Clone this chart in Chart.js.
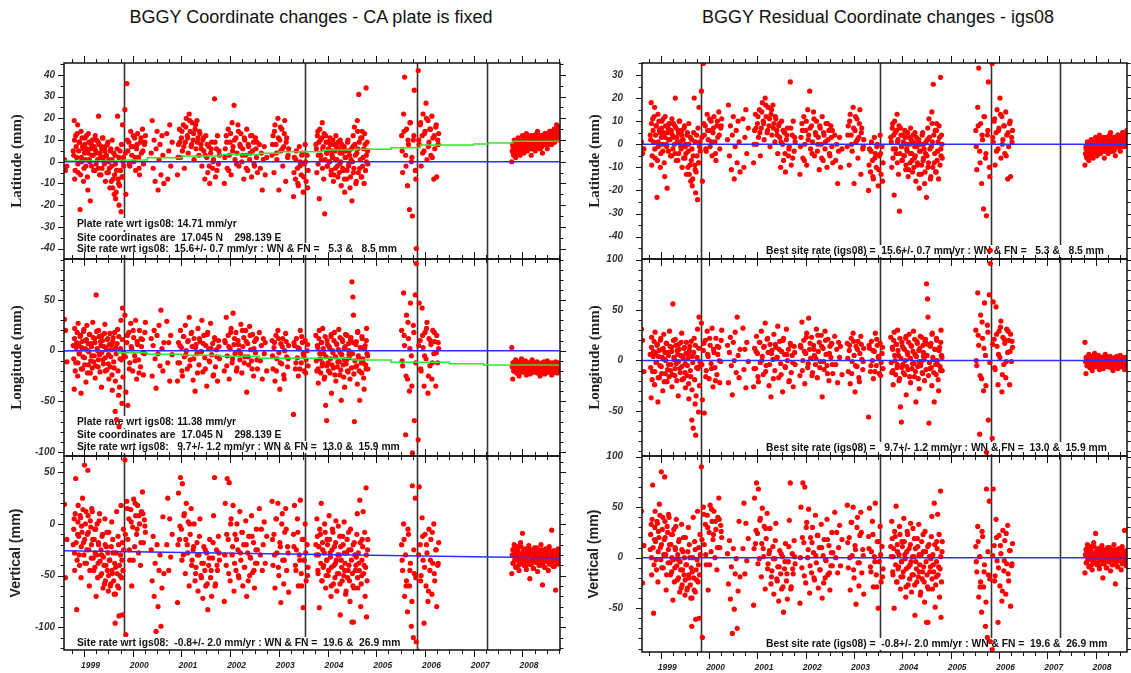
<!DOCTYPE html>
<html>
<head>
<meta charset="utf-8">
<title>BGGY coordinate time series</title>
<script src="https://cdn.jsdelivr.net/npm/chart.js@4.4.1/dist/chart.umd.min.js"></script>
<style>
  body { margin: 0; background: #fff; }
  #page { position: relative; width: 1131px; height: 673px; overflow: hidden; background: #fff; }
  .title { position: absolute; top: 7px; font: 18px "Liberation Sans", Arial, sans-serif; color: #111; transform: translateX(-50%); white-space: nowrap; }
  canvas { position: absolute; }
</style>
</head>
<body>
<div id="page">
  <div class="title" style="left:311px">BGGY Coordinate changes - CA plate is fixed</div>
  <div class="title" style="left:878px">BGGY Residual Coordinate changes - igs08</div>
  <canvas id="latL"></canvas>
  <canvas id="lonL"></canvas>
  <canvas id="hgtL"></canvas>
  <canvas id="latR"></canvas>
  <canvas id="lonR"></canvas>
  <canvas id="hgtR"></canvas>
</div>
<script>
// daily solutions (decimal year), one line per observing campaign
const epochs = [
  1998.60, 1998.62, 1998.65,
  1998.78, 1998.80, 1998.81, 1998.83, 1998.85, 1998.87, 1998.88, 1998.90, 1998.92, 1998.94, 1998.95, 1998.97, 1998.99,
  1999.01, 1999.02, 1999.04, 1999.06, 1999.08, 1999.09, 1999.11, 1999.13, 1999.15, 1999.16, 1999.18, 1999.20, 1999.22, 1999.23, 1999.25,
  1999.27, 1999.29, 1999.30, 1999.32, 1999.34, 1999.36, 1999.37, 1999.39, 1999.41, 1999.43, 1999.44, 1999.46, 1999.48, 1999.50, 1999.51,
  1999.53, 1999.55, 1999.57, 1999.58, 1999.60, 1999.62, 1999.64, 1999.65, 1999.67, 1999.69, 1999.71, 1999.72, 1999.74, 1999.76, 1999.78, 1999.79, 1999.81,
  1999.84, 1999.86, 1999.88, 1999.90, 1999.92, 1999.94, 1999.96, 1999.98, 2000.00, 2000.02, 2000.04, 2000.06, 2000.08, 2000.10, 2000.12,
  2000.14, 2000.16, 2000.18, 2000.20, 2000.22, 2000.24, 2000.26,
  2000.38, 2000.40, 2000.42, 2000.44, 2000.46, 2000.48, 2000.50, 2000.52, 2000.54, 2000.56, 2000.58, 2000.60, 2000.62, 2000.64,
  2000.70, 2000.72, 2000.74, 2000.76, 2000.78, 2000.81,
  2000.92, 2000.94, 2000.96, 2000.98, 2001.00, 2001.02, 2001.04, 2001.06, 2001.08, 2001.10, 2001.12, 2001.14, 2001.16, 2001.18, 2001.20,
  2001.22, 2001.24, 2001.26, 2001.28, 2001.30, 2001.32, 2001.34, 2001.36, 2001.38, 2001.40, 2001.42, 2001.44, 2001.46, 2001.48, 2001.50,
  2001.52, 2001.54, 2001.56, 2001.58, 2001.60, 2001.62, 2001.64, 2001.66, 2001.68, 2001.70, 2001.72, 2001.74, 2001.76, 2001.78,
  2001.88, 2001.90, 2001.92, 2001.94, 2001.96, 2001.98, 2002.00, 2002.02, 2002.04, 2002.06, 2002.08, 2002.10, 2002.12, 2002.14, 2002.16,
  2002.18, 2002.20, 2002.22, 2002.24, 2002.26, 2002.28, 2002.30, 2002.32, 2002.34, 2002.36, 2002.38, 2002.40, 2002.42, 2002.44, 2002.46,
  2002.48, 2002.50, 2002.52, 2002.54, 2002.56,
  2002.60, 2002.62, 2002.64, 2002.66, 2002.68, 2002.70, 2002.72, 2002.75,
  2002.86, 2002.88, 2002.90, 2002.92, 2002.94, 2002.96, 2002.98, 2003.00, 2003.02, 2003.04, 2003.06, 2003.08, 2003.10, 2003.12, 2003.14,
  2003.16, 2003.18, 2003.20,
  2003.30, 2003.32, 2003.34, 2003.36, 2003.38, 2003.40, 2003.42, 2003.44, 2003.46, 2003.48, 2003.50, 2003.52, 2003.54, 2003.56, 2003.58, 2003.60,
  2003.76, 2003.78, 2003.80, 2003.81, 2003.83, 2003.85, 2003.87, 2003.89, 2003.90, 2003.92, 2003.94, 2003.96, 2003.98, 2003.99,
  2004.01, 2004.03, 2004.05, 2004.07, 2004.08, 2004.10, 2004.12, 2004.14, 2004.16, 2004.17, 2004.19, 2004.21, 2004.23, 2004.25, 2004.26,
  2004.28, 2004.30, 2004.32, 2004.34, 2004.35, 2004.37, 2004.39, 2004.41, 2004.43, 2004.44, 2004.46, 2004.48, 2004.50, 2004.52, 2004.53,
  2004.55, 2004.57, 2004.59, 2004.61, 2004.62, 2004.64, 2004.66, 2004.68, 2004.70, 2004.71, 2004.73, 2004.75, 2004.77, 2004.79, 2004.80, 2004.82,
  2005.52, 2005.54, 2005.56, 2005.58, 2005.60, 2005.62, 2005.64, 2005.66, 2005.68, 2005.70, 2005.72, 2005.74, 2005.76, 2005.78, 2005.80, 2005.82,
  2005.86, 2005.88, 2005.90, 2005.92, 2005.94, 2005.96, 2005.98, 2006.00, 2006.02, 2006.04, 2006.06, 2006.08, 2006.10, 2006.12, 2006.14,
  2006.16, 2006.18, 2006.20, 2006.22, 2006.24, 2006.26, 2006.28,
  2007.78, 2007.80, 2007.81, 2007.83, 2007.85, 2007.86, 2007.88, 2007.90, 2007.91, 2007.93, 2007.95, 2007.96, 2007.98,
  2008.00, 2008.01, 2008.03, 2008.05, 2008.06, 2008.08, 2008.10, 2008.11, 2008.13, 2008.15, 2008.16, 2008.18, 2008.20, 2008.21, 2008.23,
  2008.25, 2008.26, 2008.28, 2008.30, 2008.31, 2008.33, 2008.35, 2008.36, 2008.38, 2008.40, 2008.41, 2008.43, 2008.45, 2008.46, 2008.48,
  2008.50, 2008.51, 2008.53, 2008.55, 2008.56, 2008.58, 2008.60, 2008.61, 2008.63, 2008.65, 2008.66, 2008.68, 2008.70, 2008.71, 2008.73,
  2008.75, 2008.76,
  // solutions between the ones above, same campaigns
  1998.79, 1998.805, 1998.82, 1998.84, 1998.86, 1998.875, 1998.89, 1998.91, 1998.93, 1998.945, 1998.96, 1998.98,
  1999.00, 1999.015, 1999.03, 1999.05, 1999.07, 1999.085, 1999.10, 1999.12, 1999.14, 1999.155, 1999.17, 1999.19, 1999.21, 1999.225, 1999.24,
  1999.26, 1999.28, 1999.295, 1999.31, 1999.33, 1999.35, 1999.365, 1999.38, 1999.40, 1999.42, 1999.435, 1999.45, 1999.47, 1999.49, 1999.505,
  1999.52, 1999.54, 1999.56, 1999.575, 1999.59, 1999.61, 1999.63, 1999.645, 1999.66, 1999.68, 1999.70, 1999.715, 1999.73, 1999.75, 1999.77,
  1999.785, 1999.80, 1999.815,
  1999.85, 1999.89, 1999.93, 1999.97, 2000.01, 2000.05, 2000.09, 2000.13, 2000.17, 2000.21, 2000.25,
  2000.93, 2000.97, 2001.01, 2001.05, 2001.09, 2001.13, 2001.17, 2001.21, 2001.25, 2001.29, 2001.33, 2001.37, 2001.41, 2001.45, 2001.49,
  2001.53, 2001.57, 2001.61, 2001.65, 2001.69, 2001.73, 2001.77,
  2001.89, 2001.93, 2001.97, 2002.01, 2002.05, 2002.09, 2002.13, 2002.17, 2002.21, 2002.25, 2002.29, 2002.33, 2002.37, 2002.41, 2002.45,
  2002.49, 2002.53, 2002.55,
  2002.87, 2002.91, 2002.95, 2002.99, 2003.03, 2003.07, 2003.11, 2003.15, 2003.19,
  2003.31, 2003.35, 2003.39, 2003.43, 2003.47, 2003.51, 2003.55, 2003.59,
  2003.77, 2003.79, 2003.805, 2003.82, 2003.84, 2003.86, 2003.88, 2003.895, 2003.91, 2003.93, 2003.95, 2003.97, 2003.985, 2004.00,
  2004.02, 2004.04, 2004.06, 2004.075, 2004.09, 2004.11, 2004.13, 2004.15, 2004.165, 2004.18, 2004.20, 2004.22, 2004.24, 2004.255, 2004.27,
  2004.29, 2004.31, 2004.33, 2004.345, 2004.36, 2004.38, 2004.40, 2004.42, 2004.435, 2004.45, 2004.47, 2004.49, 2004.51, 2004.525, 2004.54,
  2004.56, 2004.58, 2004.60, 2004.615, 2004.63, 2004.65, 2004.67, 2004.69, 2004.705, 2004.72, 2004.74, 2004.76, 2004.78, 2004.795, 2004.81,
  2004.825,
  2005.53, 2005.57, 2005.61, 2005.65, 2005.69, 2005.73, 2005.77, 2005.81,
  2005.87, 2005.91, 2005.95, 2005.99, 2006.03, 2006.07, 2006.11, 2006.15, 2006.19, 2006.23, 2006.27,
  2007.79, 2007.805, 2007.82, 2007.84, 2007.855, 2007.87, 2007.89, 2007.905, 2007.92, 2007.94, 2007.955, 2007.97, 2007.99,
  2008.005, 2008.02, 2008.04, 2008.055, 2008.07, 2008.09, 2008.105, 2008.12, 2008.14, 2008.155, 2008.17, 2008.19, 2008.205, 2008.22, 2008.24,
  2008.255, 2008.27, 2008.29, 2008.305, 2008.32, 2008.34, 2008.355, 2008.37, 2008.39, 2008.405, 2008.42, 2008.44, 2008.455, 2008.47, 2008.49,
  2008.505, 2008.52, 2008.54, 2008.555, 2008.57, 2008.59, 2008.605, 2008.62, 2008.64, 2008.655, 2008.67, 2008.69, 2008.705, 2008.72, 2008.74,
  2008.755, 2008.765
];

// coordinate changes with the Caribbean plate held fixed (mm)
const latPlateFixed = [
  1, -4, -2,
  5, 19, -8, 12, 2, 17, -5, 9, -22, 14, 0, 7, -9, 4, 11, -2, 6, -13, 13, 1, -18, 8, 3, 10, -4, 6, 12, -1, 4, 9,
  21, -6, 2, 7, -3, 11, 0, 5, -9, 3, 8, -5, 1, -12, 6, -2, 10, -8, -15, 3, -17, -4, 21, -10, -20, 5, -23, -7, 17, 2,
  24, -15, 36, 5, 9, -2, 14, 3, 7, 0, 11, -4, 6, 13, 2, -6, 9, 4, 15, -1, 8, 12,
  4, 19, -3, 10, -9, 6, 14, -13, 1, 8, -6, 12, 3, -10,
  13, -8, 5, 17, -2, 9,
  -6, 8, 15, 2, 11, 5, 17, -3, 9, 20, 12, 4, 22, 14, 7, 18, 10, 1, 15, 6, 19, 11, 3, 13, 8, -2, 10, 5, -8, 12,
  2, -5, 7, -10, 4, 9, -3, 1, 29, -7, 6, 12, -1, 3,
  -10, 6, 12, -3, 15, 3, 9, -6, 18, 7, 26, 1, 11, 4, 17, -2, 8, 13, 0, 6, -8, 10, 3, 15, -4, 7, 1, 12, -7, 5, 9, -2, 11, 2, -5,
  8, -3, 4, -13, 1, 7, -6, 2,
  3, 12, -5, 17, 8, 1, 20, -13, 10, 5, 15, -2, 7, 19, -9, 11, 2, 6,
  -16, 2, -8, 5, -3, -11, 7, 0, -6, 4, -14, -1, 8, -9, 3, -4,
  8, -5, 14, 3, -17, 10, 1, 18, 6, -8, -24, 12, 4, -2, 9, 0, 11, -6, 5, 2, -9, 8, -3, 12, 1, -7, 6, -1, 10, -11,
  4, -4, 7, -14, 2, -8, 9, -2, 5, -12, 1, -18, 7, -5, 16, 3, -9, 19, 6, 31, -3, 11, -7, 14, 2, -10, 8, 34, 0, 5,
  12, -5, 22, 39, 3, 15, -11, 8, -22, 18, 0, -25, 10, 33, -4, -40,
  42, 8, 17, -2, 12, 22, 5, 14, 27, 1, 19, 9, 15, 3, 21, 11, -8, 6, 16, -7, 10, 13,
  0, 8, 4, 10, 6, 2, 9, 5, 11, 7, 3, 9, 6, 12, 8, 4, 10, 7, 13, 5, 9, 11, 6, 8, 3, 10, 7, 12, 9, 5,
  11, 8, 14, 6, 10, 9, 12, 7, 4, 11, 9, 13, 8, 10, 6, 12, 9, 14, 11, 8, 13, 10, 15, 9, 12, 17, 11, 14, 10, 16,
  3, 10, -4, 7, 13, -1, 5, 9, -6, 2, 11, 6, -3, 8, 1, 12, -7, 4, 9, 0, 6, -2, 10, 3, 7, -4, 5, 10, 1, -3,
  8, 4, -6, 6, 11, 2, -1, 7, 3, -5, 9, 0, -3, 5, -9, 1, -12, 4, -6, -1, -14, 6, -8, 2, -11, -4, 8, -7, 0, -2,
  4, 10, -1, 7, 12, 2, 8, -3, 11, 5, 9,
  2, 9, 14, 7, 16, 11, 19, 8, 13, 17, 9, 14, 6, 11, 3, 8, -2, 6, 0, 9, -4, 5,
  2, 9, -4, 13, 5, 10, -1, 14, 7, 3, 11, -3, 8, 4, 12, -1, 6, 9,
  8, 14, 4, 11, 16, 6, 13, 9, 3,
  -5, 1, -10, -2, 3, -7, 0, -12,
  6, 12, -1, 9, 15, 3, 11, -3, 7, 13, 1, 9, 4, -2, 6, 0, 8, -4, 3, 10, -6, 5, 1, 7, -2, 9, -5, 4, 0, 8,
  -3, 6, -8, 2, 5, -4, 10, -1, 3, -7, 6, 0, 12, -3, 8, -10, 4, 14, -5, 9, 1, -7, 11, -2, 6, 13, -4, 3, 9, -1,
  5, 14, -2, 10, 18, 2, 12, -8,
  10, 18, 4, 13, 20, 7, 15, 2, 12, 17, 8,
  5, 7, 3, 9, 6, 8, 4, 10, 7, 5, 9, 6, 8, 10, 7, 5, 9, 11, 6, 8, 10, 7, 9, 12, 8, 6, 10, 9, 11, 7,
  13, 9, 8, 11, 10, 6, 12, 9, 11, 8, 10, 13, 9, 11, 12, 8, 10, 14, 11, 9, 12, 13, 10, 15, 12, 11, 14, 13, 12, 15
];
const lonPlateFixed = [
  31, 20, -11,
  5, -38, 22, -12, 8, -25, 27, -3, 14, -42, 3, -18, 19, -7, 10, -31, 25, 0, -14, 16, -22, 7, -5, 28, -11, 12, -27, 55, 2, -16,
  20, -4, 9, -36, 15, -9, 4, 26, -20, 1, 11, -13, -28, 17, -6, 6, -39, 13, -17, -60, 3, -68, 21, -44, -75, -8, 30, -52, 42, -2,
  35, -41, 8, -54, 18, -12, 27, 2, -20, 13, -5, 30, -28, 6, -9, 20, -16, 4, 11, -24, -3, 28,
  12, -25, 5, 20, -8, -37, 15, -3, 25, -15, 40, 2, -20, 8,
  29, -12, 8, -30, 15, -4,
  -30, 8, -12, 20, 3, -25, 14, -6, 25, 0, -18, 10, 33, -9, 17, 4, -29, 12, -40, 6, -3, 22, -14, 9, -1, 30, -21, 15, -7, 5,
  -35, 18, 2, -11, 27, -4, 7, -24, 13, -16, 1, -30, 10, -8,
  -20, 8, 33, -5, 15, -28, 2, 22, -12, 37, 6, -3, 18, -17, 10, 0, -9, 26, -22, 4, 13, -6, 20, -41, 7, -14, 24, 1, -10, 16, -25, 9, -2, 12, -18,
  18, -10, 5, -28, 12, -3, 8, -20,
  10, -18, 3, -30, 15, -8, 20, -2, -38, 7, -13, 12, -24, 0, 17, -6, -16, 5,
  -63, 5, -18, 12, -7, -25, 2, 20, -12, 8, -3, -20, 10, -9, 0, -15,
  15, -20, 3, -32, 20, -8, 8, -15, 22, -3, -26, -54, -69, 10, -12, 4, -22, 14, -42, 0, -17, 18, -6, -30, 6, -11, 21, -24, -2, -49,
  11, -14, 2, -36, 16, -9, -20, 7, -4, -28, 13, 68, 53, 35, -70, -16, 9, -33, 19, -7, -49, 3, -22, 12, -12, -38, 5, -18, 22, -5,
  20, -15, 57, 5, -83, 35, -28, 12, -40, 47, -5, -101, 25, -69, 55, 86,
  -88, 47, 10, -20, 42, 3, -35, 18, -8, 28, -42, 12, -15, 6, -28, 20, -3, 9, -35, 15, -12, 2,
  3, -28, -12, -20, -15, -9, -22, -17, -11, -25, -14, -19, -8, -16, -21, -13, -18, -10, -24, -15, -20, -12, -17, -23, -14, -9, -19, -16, -21, -13,
  -18, -11, -22, -15, -19, -25, -14, -17, -12, -20, -16, -23, -13, -18, -10, -21, -15, -19, -14, -24, -12, -17, -20, -15, -11, -18, -22, -14, -16, -13,
  -8, 12, -20, 3, 18, -12, 6, -3, 15, -18, 9, -6, 21, -14, 2, 11, -22, 7, -1, 16, -10, 4, -17, 13, -5, 8, -15, 19, 0, -9,
  14, -21, 5, -2, 10, -13, 17, -7, 3, -19, 12, -4, 6, -16, 1, -24, 9, -11, 18, -30, -3, 7, -20, 14, -36, 2, -9, 11, -26, -6,
  -6, 15, -18, 4, 20, -10, 9, -22, 12, -2, 18,
  -12, 5, -20, 14, -4, 9, -15, 18, -8, 3, -22, 12, -1, 7, -18, 16, -10, 2, -25, 11, -6, 4,
  10, -15, 4, 18, -8, 12, -20, 6, -3, 20, -12, 9, -6, 15, -18, 2, 11, -9,
  -5, 8, -20, 12, -12, 4, -28, 9, -8,
  8, -12, 3, -18, 14, -5, -22, 6,
  -10, 5, -18, 12, -3, -22, 8, -12, 2, -28, 14, -6, -15, 6, -20, 3, -8, 16, -14, -2, 10, -24, -6, 7, -16, 1, -11, 13, -19, -4,
  9, -26, -9, 4, -13, 15, -21, 0, -7, 11, -17, -3, 8, -23, -10, 6, -15, 18, -5, -20, 3, -12, 14, -8, -27, 2, -14, 10, -3, -18,
  -10, 15, -25, 28, 2, -35, 18, -12,
  5, -18, 15, -5, 22, -25, 10, -12, 18, -2, 8,
  -16, -12, -20, -14, -18, -11, -22, -15, -13, -19, -17, -12, -21, -14, -18, -16, -11, -20, -15, -13, -22, -17, -12, -19, -15, -18, -14, -21, -16, -12,
  -20, -15, -18, -13, -17, -22, -14, -19, -16, -11, -20, -15, -18, -13, -21, -16, -12, -19, -17, -14, -22, -15, -18, -13, -20, -16, -12, -19, -17, -15
];
const hgtPlateFixed = [
  19, -52, -15,
  -20, 5, -45, 44, -83, -10, 18, -30, 8, -52, -2, 25, -18, 57, -38, 12, -25, 52, -8, -60, 3, -33, 15, -15, -45, -5, -28, -70, 0, -38,
  -20, 10, -50, -30, -12, -62, -40, 5, -55, -22, -45, -65, -8, -35, -58, 2, -48, -28, -68, -96, -42, 12, -60, -20, -89, -50, 18, -35, -88, -5,
  62, -107, 22, -15, 5, -35, 14, -60, -3, 24, -22, 8, -10, 18, -28, 0, -40, 12, 31, -18, 4, -8,
  -25, -55, -12, -70, -38, -104, -20, -80, -45, -30, -99, -62, 7, -48,
  -20, 25, -45, 5, -32, -10,
  -76, 30, -15, 45, -5, 39, -30, 10, -48, 20, -20, 2, -60, -10, 15, -35, -25, 0, -55, -42, -18, -65, -30, 5, -50, -38, -72, -22, -45, -60,
  -28, -83, -40, -15, -52, -70, -33, 8, 45, -58, -25, -45, -12, -35,
  -75, 20, -40, 44, -15, 40, -55, 5, -30, 18, -65, -10, -45, 0, -25, -52, 12, -35, -8, -60, -20, -42, 3, -70, -28, -12, -50, -33, 8, -47,
  -18, -62, -38, -5, -25,
  15, -30, -5, -45, -20, 2, -38, -12,
  22, -40, -10, -62, 5, -28, 20, -50, -18, -76, 0, -35, -58, -8, 15, -45, -22, -66,
  -10, 18, -40, -25, 5, -60, -30, 23, -48, -15, -81, -35, 0, -55, -20, -42,
  -20, 5, -45, -30, -81, -10, 20, -55, -25, -40, 0, -62, -35, -15, -50, 8, -28, -70, -42, -5, -58, -22, -38, 3, -65, -30, -48, -12, -88, -35,
  -55, -20, 2, -45, -68, -28, -52, -8, -40, -75, -25, -95, -60, -95, -18, -45, -32, 10, -62, -38, 23, -80, -50, -15, 12, -40, -70, 35, -90, -25,
  -20, -45, 0, -70, -30, -55, -85, -10, -60, -38, -99, 37, -110, -48, 25, -114,
  -123, 36, -20, -50, 6, -35, -96, -10, -60, -28, -75, -5, -45, -15, -68, -38, 0, -55, -25, -80, -40, -18,
  -48, -25, -38, -20, -32, -42, -28, -35, -22, -45, -30, -18, -38, -9, -27, -40, -33, -24, -44, -30, -36, -21, -53, -29, -39, -26, -34, -43, -23, -31,
  -37, -28, -46, -25, -33, -40, -20, -35, -59, -30, -27, -42, -24, -36, -32, -45, -22, -38, -29, -6, -34, -41, -26, -35, -64, -30, -39, -24, -33, -28,
  -5, -28, 10, -18, -35, 2, -12, -40, 6, -22, -8, 14, -30, -15, 0, -38, -10, 8, -25, -45, -3, -20, 12, -33, -15, -42, -5, -30, -52, -18,
  3, -36, -25, -48, -10, -32, -58, -20, -40, -8, -28, -50, -35, -60, -22, -45, -15, -55, -38, -68, -28, -48, -12, -62, -40, -30, -52, -18, -45, -25,
  -10, 15, -25, 2, -35, 20, -5, 8, -18, 10, -2,
  -20, -2, -35, 8, -15, -28, 0, -40, -22, -48, -30, -12, -52, -38, -25, -58, -33, -45, -18, -60, -40, -28,
  -30, -10, -48, 0, -22, -38, -15, -50, -28, -8, -42, -20, -55, -32, -12, -45, -25, -38,
  -15, -30, 5, -42, -22, 10, -35, -5, -28,
  -22, -45, -8, -35, -60, -15, -28, -50,
  -30, -12, -48, -22, -5, -38, -55, -18, -42, -28, -8, -50, -35, -20, -45, -15, -32, -60, -25, -8, -40, -52, -18, -35, -48, -2, -30, -58, -22, -42,
  -12, -50, -28, -38, -65, -15, -45, -25, -55, -5, -35, -48, -20, -62, -30, -40, -10, -52, -28, -45, -18, -58, -35, -22, -48, -8, -42, -30, -55, -15,
  -35, -15, -60, -5, -45, -75, -25, -52,
  -30, -55, -12, -42, -20, -65, -35, -8, -48, -25, -38,
  -30, -38, -24, -35, -28, -42, -32, -26, -40, -30, -36, -22, -34, -29, -38, -25, -33, -41, -27, -36, -31, -24, -39, -29, -35, -26, -43, -32, -28, -37,
  -23, -34, -30, -40, -27, -35, -31, -25, -38, -29, -42, -33, -26, -36, -30, -24, -39, -32, -28, -37, -34, -26, -41, -30, -35, -27, -38, -31, -29, -36
];

// residuals after removing the igs08 site velocity (mm)
const latResidual = [
  1, -4, -2,
  4, 18, -9, 11, 1, 16, -6, 8, -23, 13, -1, 6, -10, 3, 10, -3, 5, -14, 12, 0, -19, 7, 2, 9, -5, 5, 11, -2, 3, 8,
  20, -7, 1, 6, -4, 10, -1, 4, -10, 2, 7, -6, 0, -13, 5, -3, 9, -9, -16, 2, -18, -5, 20, -11, -21, 4, -24, -8, 16, 1,
  23, -16, 35, 4, 8, -3, 13, 2, 6, -1, 10, -5, 5, 12, 1, -7, 8, 3, 14, -2, 7, 11,
  2, 17, -5, 8, -11, 4, 12, -15, -1, 6, -8, 10, 1, -12,
  11, -10, 3, 15, -4, 7,
  -8, 6, 13, 0, 9, 3, 15, -5, 7, 18, 10, 2, 20, 12, 5, 16, 8, -1, 13, 4, 17, 9, 1, 11, 6, -4, 8, 3, -10, 10,
  0, -7, 5, -12, 2, 7, -5, -1, 27, -9, 4, 10, -3, 1,
  -13, 3, 9, -6, 12, 0, 6, -9, 15, 4, 23, -2, 8, 1, 14, -5, 5, 10, -3, 3, -11, 7, 0, 12, -7, 4, -2, 9, -10, 2, 6, -5, 8, -1, -8,
  4, -7, 0, -17, -3, 3, -10, -2,
  -1, 8, -9, 13, 4, -3, 16, -17, 6, 1, 11, -6, 3, 15, -13, 7, -2, 2,
  -20, -2, -12, 1, -7, -15, 3, -4, -10, 0, -18, -5, 4, -13, -1, -8,
  3, -10, 9, -2, -22, 5, -4, 13, 1, -13, -29, 7, -1, -7, 4, -5, 6, -11, 0, -3, -14, 3, -8, 7, -4, -12, 1, -6, 5, -16,
  -1, -9, 2, -19, -3, -13, 4, -7, 0, -17, -4, -23, 2, -10, 11, -2, -14, 14, 1, 26, -8, 6, -12, 9, -3, -15, 3, 29, -5, 0,
  6, -11, 16, 33, -3, 9, -17, 2, -28, 12, -6, -31, 4, 27, -10, -46,
  35, 1, 10, -9, 5, 15, -2, 7, 20, -6, 12, 2, 8, -4, 14, 4, -15, -1, 9, -14, 3, 6,
  -9, -1, -5, 1, -3, -7, 0, -4, 2, -2, -6, 0, -3, 3, -1, -5, 1, -2, 4, -4, 0, 2, -3, -1, -6, 1, -2, 3, 0, -4,
  2, -1, 5, -3, 1, 0, 3, -2, -5, 2, 0, 4, -1, 1, -3, 3, 0, 5, 2, -1, 4, 1, 6, 0, 3, 8, 2, 5, 1, 7,
  2, 9, -5, 6, 12, -2, 4, 8, -7, 1, 10, 5, -4, 7, 0, 11, -8, 3, 8, -1, 5, -3, 9, 2, 6, -5, 4, 9, 0, -4,
  7, 3, -7, 5, 10, 1, -2, 6, 2, -6, 8, -1, -4, 4, -10, 0, -13, 3, -7, -2, -15, 5, -9, 1, -12, -5, 7, -8, -1, -3,
  3, 9, -2, 6, 11, 1, 7, -4, 10, 4, 8,
  0, 7, 12, 5, 14, 9, 17, 6, 11, 15, 7, 12, 4, 9, 1, 6, -4, 4, -2, 7, -6, 3,
  -1, 6, -7, 10, 2, 7, -4, 11, 4, 0, 8, -6, 5, 1, 9, -4, 3, 6,
  4, 10, 0, 7, 12, 2, 9, 5, -1,
  -9, -3, -14, -6, -1, -11, -4, -16,
  1, 7, -6, 4, 10, -2, 6, -8, 2, 8, -4, 4, -1, -7, 1, -5, 3, -9, -2, 5, -11, 0, -4, 2, -7, 4, -10, -1, -5, 3,
  -8, 1, -13, -3, 0, -9, 5, -6, -2, -12, 1, -5, 7, -8, 3, -15, -1, 9, -10, 4, -4, -12, 6, -7, 1, 8, -9, -2, 4, -6,
  -1, 8, -8, 4, 12, -4, 6, -14,
  3, 11, -3, 6, 13, 0, 8, -5, 5, 10, 1,
  -4, -2, -6, 0, -3, -1, -5, 1, -2, -4, 0, -3, -1, 1, -2, -4, 0, 2, -3, -1, 1, -2, 0, 3, -1, -3, 1, 0, 2, -2,
  4, 0, -1, 2, 1, -3, 3, 0, 2, -1, 1, 4, 0, 2, 3, -1, 1, 5, 2, 0, 3, 4, 1, 6, 3, 2, 5, 4, 3, 6
];
const lonResidual = [
  31, 20, -11,
  6, -37, 23, -11, 9, -24, 28, -2, 15, -41, 4, -17, 20, -6, 11, -30, 26, 1, -13, 17, -21, 8, -4, 29, -10, 13, -26, 56, 3, -15,
  21, -3, 10, -35, 16, -8, 5, 27, -19, 2, 12, -12, -27, 18, -5, 7, -38, 14, -16, -59, 4, -67, 22, -43, -74, -7, 31, -51, 43, -1,
  37, -39, 10, -52, 20, -10, 29, 4, -18, 15, -3, 32, -26, 8, -7, 22, -14, 6, 13, -22, -1, 30,
  15, -22, 8, 23, -5, -34, 18, 0, 28, -12, 43, 5, -17, 11,
  32, -9, 11, -27, 18, -1,
  -26, 12, -8, 24, 7, -21, 18, -2, 29, 4, -14, 14, 37, -5, 21, 8, -25, 16, -36, 10, 1, 26, -10, 13, 3, 34, -17, 19, -3, 9,
  -31, 22, 6, -7, 31, 0, 11, -20, 17, -12, 5, -26, 14, -4,
  -15, 13, 38, 0, 20, -23, 7, 27, -7, 42, 11, 2, 23, -12, 15, 5, -4, 31, -17, 9, 18, -1, 25, -36, 12, -9, 29, 6, -5, 21, -20, 14, 3, 17, -13,
  24, -4, 11, -22, 18, 3, 14, -14,
  17, -11, 10, -23, 22, -1, 27, 5, -31, 14, -6, 19, -17, 7, 24, 1, -9, 12,
  -56, 12, -11, 19, 0, -18, 9, 27, -5, 15, 4, -13, 17, -2, 7, -8,
  23, -12, 11, -24, 28, 0, 16, -7, 30, 5, -18, -46, -61, 18, -4, 12, -14, 22, -34, 8, -9, 26, 2, -22, 14, -3, 29, -16, 6, -41,
  19, -6, 10, -28, 24, -1, -12, 15, 4, -20, 21, 76, 61, 43, -62, -8, 17, -25, 27, 1, -41, 11, -14, 20, -4, -30, 13, -10, 30, 3,
  30, -5, 67, 15, -73, 45, -18, 22, -30, 57, 5, -91, 35, -59, 65, 96,
  -77, 58, 21, -9, 53, 14, -24, 29, 3, 39, -31, 23, -4, 17, -17, 31, 8, 20, -24, 26, -1, 13,
  18, -13, 3, -5, 0, 6, -7, -2, 4, -10, 1, -4, 7, -1, -6, 2, -3, 5, -9, 0, -5, 3, -2, -8, 1, 6, -4, -1, -6, 2,
  -3, 4, -7, 0, -4, -10, 1, -2, 3, -5, -1, -8, 2, -3, 5, -6, 0, -4, 1, -9, 3, -2, -5, 0, 4, -3, -7, 1, -1, 2,
  -7, 13, -19, 4, 19, -11, 7, -2, 16, -17, 10, -5, 22, -13, 3, 12, -21, 8, 0, 17, -9, 5, -16, 14, -4, 9, -14, 20, 1, -8,
  15, -20, 6, -1, 11, -12, 18, -6, 4, -18, 13, -3, 7, -15, 2, -23, 10, -10, 19, -29, -2, 8, -19, 15, -35, 3, -8, 12, -25, -5,
  -4, 17, -16, 6, 22, -8, 11, -20, 14, 0, 20,
  -8, 9, -16, 18, 0, 13, -11, 22, -4, 7, -18, 16, 3, 11, -14, 20, -6, 6, -21, 15, -2, 8,
  15, -10, 9, 23, -3, 17, -15, 11, 2, 25, -7, 14, -1, 20, -13, 7, 16, -4,
  2, 15, -13, 19, -5, 11, -21, 16, -1,
  15, -5, 10, -11, 21, 2, -15, 13,
  -2, 13, -10, 20, 5, -14, 16, -4, 10, -20, 22, 2, -7, 14, -12, 11, 0, 24, -6, 6, 18, -16, 2, 15, -8, 9, -3, 21, -11, 4,
  17, -18, -1, 12, -5, 23, -13, 8, 1, 19, -9, 5, 16, -15, -2, 14, -7, 26, 3, -12, 11, -4, 22, 0, -19, 10, -6, 18, 5, -10,
  0, 25, -15, 38, 12, -25, 28, -2,
  16, -7, 26, 6, 33, -14, 21, -1, 29, 9, 19,
  -1, 3, -5, 1, -3, 4, -7, 0, 2, -4, -2, 3, -6, 1, -3, -1, 4, -5, 0, 2, -7, -2, 3, -4, 0, -3, 1, -6, -1, 3,
  -5, 0, -3, 2, -2, -7, 1, -4, -1, 4, -5, 0, -3, 2, -6, -1, 3, -4, -2, 1, -7, 0, -3, 2, -5, -1, 3, -4, -2, 0
];
const hgtResidual = [
  46, -25, 12,
  8, 33, -17, 72, -55, 18, 46, -2, 36, -24, 26, 53, 10, 85, -10, 40, 3, 80, 20, -32, 31, -5, 43, 13, -17, 23, 0, -42, 28, -10,
  8, 38, -22, -2, 16, -34, -12, 33, -27, 6, -17, -37, 20, -7, -30, 30, -20, 0, -40, -68, -14, 40, -32, 8, -61, -22, 46, -7, -60, 23,
  90, -79, 50, 13, 33, -7, 42, -32, 25, 52, 6, 36, 18, 46, 0, 28, -12, 40, 59, 10, 32, 20,
  4, -26, 17, -41, -9, -75, 9, -51, -16, -1, -70, -33, 36, -19,
  9, 54, -16, 34, -3, 19,
  -47, 59, 14, 74, 24, 68, -1, 39, -19, 49, 9, 31, -31, 19, 44, -6, 4, 29, -26, -13, 11, -36, -1, 34, -21, -9, -43, 7, -16, -31,
  1, -54, -11, 14, -23, -41, -4, 37, 74, -29, 4, -16, 17, -6,
  -45, 50, -10, 74, 15, 70, -25, 35, 0, 48, -35, 20, -15, 30, 5, -22, 42, -5, 22, -30, 10, -12, 33, -40, 2, 18, -20, -3, 38, -17,
  12, -32, -8, 25, 5,
  45, 0, 25, -15, 10, 32, -8, 18,
  52, -10, 20, -32, 35, 2, 50, -20, 12, -46, 30, -5, -28, 22, 45, -15, 8, -36,
  21, 49, -9, 6, 36, -29, 1, 54, -17, 16, -50, -4, 31, -24, 11, -11,
  11, 36, -14, 1, -50, 21, 51, -24, 6, -9, 31, -31, -4, 16, -19, 39, 3, -39, -11, 26, -27, 9, -7, 34, -34, 1, -17, 19, -57, -4,
  -24, 11, 33, -14, -37, 3, -21, 23, -9, -44, 6, -64, -29, -64, 13, -14, -1, 41, -31, -7, 54, -49, -19, 16, 43, -9, -39, 66, -59, 6,
  11, -14, 31, -39, 1, -24, -54, 21, -29, -7, -68, 68, -79, -17, 56, -83,
  -91, 68, 12, -18, 38, -3, -64, 22, -28, 4, -43, 27, -13, 17, -36, -6, 32, -23, 7, -48, -8, 14,
  -15, 8, -5, 13, 1, -9, 5, -2, 11, -12, 3, 15, -5, 24, 6, -7, 0, 9, -11, 3, -3, 12, -20, 4, -6, 7, -1, -10, 10, 2,
  -4, 5, -13, 8, 0, -7, 13, -2, -26, 3, 6, -9, 9, -3, 1, -12, 11, -5, 4, 27, -1, -8, 7, -2, -31, 3, -6, 9, 0, 5,
  23, 0, 38, 10, -7, 30, 16, -12, 34, 6, 20, 42, -2, 13, 28, -10, 18, 36, 3, -17, 25, 8, 40, -5, 13, -14, 23, -2, -24, 10,
  31, -8, 3, -20, 18, -4, -30, 8, -12, 20, 0, -22, -7, -32, 6, -17, 13, -27, -10, -40, 0, -20, 16, -34, -12, -2, -24, 10, -17, 3,
  18, 43, 3, 30, -7, 48, 23, 36, 10, 38, 26,
  9, 27, -6, 37, 14, 1, 29, -11, 7, -19, -1, 17, -23, -9, 4, -29, -4, -16, 11, -31, -11, 1,
  0, 20, -18, 30, 8, -8, 15, -20, 2, 22, -12, 10, -25, -2, 18, -15, 5, -8,
  15, 0, 35, -12, 8, 40, -5, 25, 2,
  9, -14, 23, -4, -29, 16, 3, -19,
  1, 19, -17, 9, 26, -7, -24, 13, -11, 3, 23, -19, -4, 11, -14, 16, -1, -29, 6, 23, -9, -21, 13, -4, -17, 29, 1, -27, 9, -11,
  19, -19, 3, -7, -34, 16, -14, 6, -24, 26, -4, -17, 11, -31, 1, -9, 21, -21, 3, -14, 13, -27, -4, 9, -17, 23, -11, 1, -24, 16,
  -4, 16, -29, 26, -14, -44, 6, -21,
  2, -23, 20, -10, 12, -33, -3, 24, -16, 7, -6,
  3, -5, 9, -2, 5, -9, 1, 7, -7, 3, -3, 11, -1, 4, -5, 8, 0, -8, 6, -3, 2, 9, -6, 4, -2, 7, -10, 1, 5, -4,
  10, -1, 3, -7, 6, -2, 2, 8, -5, 4, -9, 0, 7, -3, 3, 9, -6, 1, 5, -4, -1, 7, -8, 3, -2, 6, -5, 2, 4, -3
];

// equipment changes
const eventYears = [1999.825, 2003.53, 2005.835, 2007.265];

// fitted models
const zeroYears = [1998.59, 2008.77];
const zeroLine = [0, 0];
const latModelYears = [1998.59, 1999.83, 2000.3, 2001.0, 2001.8, 2002.6, 2003.0, 2003.9, 2004.6, 2005.3, 2005.9, 2007.0, 2007.3, 2007.8, 2008.77];
const latModel = [0.3, 0.8, 1.8, 2.6, 3.4, 3.9, 4.6, 5.4, 5.8, 6.5, 7.7, 8.2, 8.6, 9.5, 9.5];
const lonModelYears = [1998.59, 1999.7, 2000.3, 2001.0, 2001.8, 2002.6, 2004.5, 2005.3, 2006.5, 2007.2, 2008.77];
const lonModel = [0, -2, -3.5, -4.6, -5.6, -7.6, -9.2, -11.5, -13, -14.2, -14.2];
const hgtModelYears = [1998.59, 2008.77];
const hgtModel = [-26, -33];

const RED = '#ff0000', BLUE = '#2f2fff', GREEN = '#2ee62e';
const NOTE_FONT = 'bold 10.3px "Liberation Sans", Arial, sans-serif';
const tickFont = { family: 'Liberation Sans', size: 10, style: 'italic', weight: 'bold' };
const yearFont = { family: 'Liberation Sans', size: 8.5, style: 'italic', weight: 'bold' };

const pts = (xs, ys) => xs.map((t, i) => ({ x: t, y: ys[i] }));

const cols = {
  left:  { x: 0,   w: 580, axisW: 64, padR: 20, tickPad: 9,  titlePad: 8, xMin: 1998.59, xMax: 2008.77, noteX: 13 },
  right: { x: 580, w: 551, axisW: 62, padR: 2,  tickPad: 19, titlePad: 6, xMin: 1998.61, xMax: 2008.65, noteX: 124 }
};

const line = (xs, ys, color, stepped) => ({
  data: pts(xs, ys), showLine: true, stepped: !!stepped, borderColor: color, borderWidth: 1.5, pointRadius: 0
});

const panels = [
  { id: 'latL', col: 'left', top: 63, bottom: 259, yMin: -44.8, yMax: 45.5, major: 10, minor: 5,
    title: 'Latitude (mm)', serif: true, values: latPlateFixed,
    lines: [line(zeroYears, zeroLine, BLUE), line(latModelYears, latModel, GREEN, true)],
    notes: ['Plate rate wrt igs08: 14.71 mm/yr',
            'Site coordinates are  17.045 N    298.139 E',
            'Site rate wrt igs08:  15.6+/- 0.7 mm/yr : WN & FN =   5.3 &   8.5 mm'],
    noteY: [-35, -21, -10] },
  { id: 'lonL', col: 'left', top: 259, bottom: 456, yMin: -104, yMax: 90.5, major: 50, minor: 10,
    title: 'Longitude (mm)', serif: true, values: lonPlateFixed,
    lines: [line(zeroYears, zeroLine, BLUE), line(lonModelYears, lonModel, GREEN, true)],
    notes: ['Plate rate wrt igs08: 11.38 mm/yr',
            'Site coordinates are  17.045 N    298.139 E',
            'Site rate wrt igs08:   9.7+/- 1.2 mm/yr : WN & FN =  13.0 &  15.9 mm'],
    noteY: [-34, -21, -9] },
  { id: 'hgtL', col: 'left', top: 456, bottom: 650, yMin: -122, yMax: 65.8, major: 50, minor: 10,
    title: 'Vertical (mm)', serif: false, values: hgtPlateFixed, years: true,
    lines: [line(hgtModelYears, hgtModel, BLUE)],
    notes: ['Site rate wrt igs08:  -0.8+/- 2.0 mm/yr : WN & FN =  19.6 &  26.9 mm'],
    noteY: [-7] },
  { id: 'latR', col: 'right', top: 63, bottom: 259, yMin: -49.7, yMax: 35.2, major: 10, minor: 5,
    title: 'Latitude (mm)', serif: true, values: latResidual,
    lines: [line(zeroYears, zeroLine, BLUE)],
    notes: ['Best site rate (igs08) =  15.6+/- 0.7 mm/yr : WN & FN =   5.3 &   8.5 mm'],
    noteY: [-8] },
  { id: 'lonR', col: 'right', top: 259, bottom: 456, yMin: -94.6, yMax: 100.5, major: 50, minor: 10,
    title: 'Longitude (mm)', serif: true, values: lonResidual,
    lines: [line(zeroYears, zeroLine, BLUE)],
    notes: ['Best site rate (igs08) =   9.7+/- 1.2 mm/yr : WN & FN =  13.0 &  15.9 mm'],
    noteY: [-8] },
  { id: 'hgtR', col: 'right', top: 456, bottom: 652, yMin: -93.4, yMax: 100.7, major: 50, minor: 10,
    title: 'Vertical (mm)', serif: false, values: hgtResidual, years: true,
    lines: [line(zeroYears, zeroLine, BLUE)],
    notes: ['Best site rate (igs08) =  -0.8+/- 2.0 mm/yr : WN & FN =  19.6 &  26.9 mm'],
    noteY: [-8] }
];

// frame, outward ticks, equipment-change lines and the rate notes
function makeFrame(p, c) {
  return {
    id: 'frame',
    beforeDatasetsDraw(chart) {
      const { ctx, chartArea: a, scales: { x } } = chart;
      ctx.save();
      ctx.strokeStyle = '#333';
      ctx.lineWidth = 1.6;
      eventYears.forEach(t => {
        const px = Math.round(x.getPixelForValue(t)) + 0.5;
        ctx.beginPath();
        ctx.moveTo(px, a.top);
        ctx.lineTo(px, a.bottom);
        ctx.stroke();
      });
      ctx.font = NOTE_FONT;
      ctx.textBaseline = 'middle';
      p.notes.forEach((txt, i) => {
        const ty = a.bottom + p.noteY[i];
        const w = ctx.measureText(txt).width;
        ctx.fillStyle = '#fff';
        ctx.fillRect(a.left + c.noteX - 1, ty - 6, w + 2, 12);
        ctx.fillStyle = '#111';
        ctx.fillText(txt, a.left + c.noteX, ty);
      });
      ctx.restore();
    },
    afterDraw(chart) {
      const { ctx, chartArea: a, scales: { x, y } } = chart;
      ctx.save();
      ctx.strokeStyle = '#111';
      ctx.lineWidth = 1;
      ctx.beginPath();
      // quarter-year ticks, longer at each new year
      for (let q = Math.ceil(x.min * 4); q <= Math.floor(x.max * 4); q++) {
        const px = Math.round(x.getPixelForValue(q / 4)) + 0.5;
        const len = q % 4 === 0 ? 7 : 4;
        ctx.moveTo(px, a.top); ctx.lineTo(px, a.top - len);
        ctx.moveTo(px, a.bottom); ctx.lineTo(px, a.bottom + len);
      }
      for (let k = Math.ceil(y.min / p.minor); k * p.minor <= y.max; k++) {
        const v = k * p.minor;
        const py = Math.round(y.getPixelForValue(v)) + 0.5;
        const len = v % p.major === 0 ? 6 : 3.5;
        ctx.moveTo(a.left, py); ctx.lineTo(a.left - len, py);
        ctx.moveTo(a.right, py); ctx.lineTo(a.right + len, py);
      }
      ctx.stroke();
      ctx.lineWidth = 1.5;
      ctx.strokeRect(a.left, a.top, a.right - a.left, a.bottom - a.top);
      ctx.restore();
    }
  };
}

panels.forEach(p => {
  const c = cols[p.col];
  const canvas = document.getElementById(p.id);
  const padB = p.years ? 3 : 10;
  const axisH = p.years ? 20 : 0;
  canvas.width = c.w;
  canvas.height = (p.bottom - p.top) + 10 + padB + axisH;
  canvas.style.left = c.x + 'px';
  canvas.style.top = (p.top - 10) + 'px';

  new Chart(canvas, {
    type: 'scatter',
    data: {
      datasets: [
        ...p.lines,
        { data: pts(epochs, p.values), pointRadius: 2.6, pointBackgroundColor: RED, pointBorderWidth: 0, showLine: false }
      ]
    },
    options: {
      responsive: false,
      animation: false,
      events: [],
      layout: { padding: { left: 0, right: c.padR, top: 10, bottom: padB } },
      plugins: { legend: { display: false }, tooltip: { enabled: false } },
      scales: {
        x: {
          type: 'linear', min: c.xMin, max: c.xMax,
          grid: { display: false, drawTicks: false }, border: { display: false },
          ticks: { display: !!p.years, stepSize: 1, includeBounds: false, autoSkip: false, maxRotation: 0,
                   align: 'start', labelOffset: -3, padding: 11, font: yearFont, color: '#222', callback: v => String(v) },
          afterFit: s => { s.height = axisH; s.paddingLeft = 0; s.paddingRight = 0; }
        },
        y: {
          min: p.yMin, max: p.yMax,
          grid: { display: false, drawTicks: false }, border: { display: false },
          ticks: { stepSize: p.major, includeBounds: false, autoSkip: false, padding: c.tickPad,
                   font: tickFont, color: '#333', callback: v => String(v) },
          title: {
            display: true, text: p.title, color: '#222',
            font: p.serif ? { family: 'Liberation Serif', size: 15, weight: 'bold' }
                          : { family: 'Liberation Sans', size: 14.2, weight: 'bold' },
            padding: { top: c.titlePad, bottom: 0 }
          },
          afterFit: s => { s.width = c.axisW; s.paddingTop = 0; s.paddingBottom = 0; }
        }
      }
    },
    plugins: [makeFrame(p, c)]
  });
});
</script>
</body>
</html>
